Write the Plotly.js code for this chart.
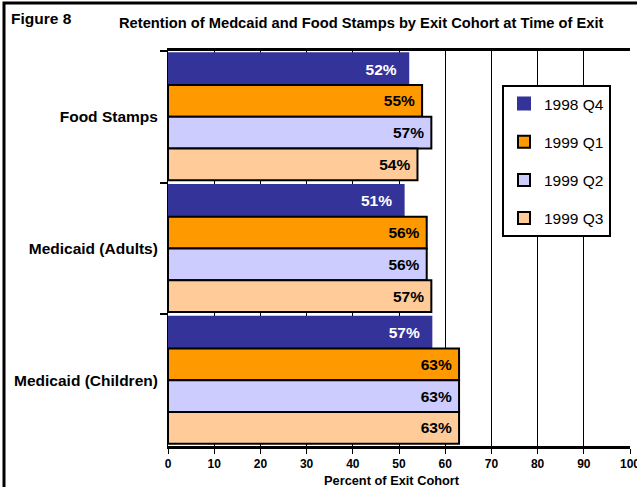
<!DOCTYPE html>
<html>
<head>
<meta charset="utf-8">
<script src="https://cdn.plot.ly/plotly-3.0.1.min.js"></script>
<style>html,body{margin:0;padding:0;background:#fff;}#chart{width:637px;height:487px;}</style>
</head>
<body>
<div id="chart"></div>
<script>
var categories = ["Food Stamps", "Medicaid (Adults)", "Medicaid (Children)"];
var seriesNames = ["1998 Q4", "1999 Q1", "1999 Q2", "1999 Q3"];
var q4_1998 = [52, 51, 57];
var q1_1999 = [55, 56, 63];
var q2_1999 = [57, 56, 63];
var q3_1999 = [54, 57, 63];
var seriesValues = [q4_1998, q1_1999, q2_1999, q3_1999];
var colors = ["#333399", "#FF9900", "#CCCCFF", "#FFCC99"];
var lineColors = ["#333399", "#000000", "#000000", "#000000"];
var textColors = ["#FFFFFF", "#000000", "#000000", "#000000"];
var xTicks = [0, 10, 20, 30, 40, 50, 60, 70, 80, 90, 100];

var FONT = "Liberation Sans, Arial, sans-serif";
var traces = seriesValues.map(function (vals, i) {
  return {
    type: "bar",
    orientation: "h",
    name: seriesNames[i],
    legendgroup: "g" + i,
    y: categories,
    x: vals,
    text: vals.map(function (v) { return v + "%" + (i === 0 ? "\u00a0\u00a0" : "\u00a0"); }),
    textposition: "inside",
    insidetextanchor: "end",
    textangle: 0,
    constraintext: "none",
    textfont: { family: FONT, size: 15.5, color: textColors[i], weight: "bold" },
    marker: { color: colors[i], line: { color: lineColors[i], width: 2 } },
    hoverinfo: "none"
  };
});

var L = 168, R = 7, T = 51, B = 41, W = 637, H = 487;
var pw = W - L - R, ph = H - T - B;
function px(x) { return (x - L) / pw; }
function py(y) { return (H - B - y) / ph; }

var layout = {
  width: W, height: H,
  margin: { l: L, r: R, t: T, b: B, pad: 0 },
  paper_bgcolor: "#ffffff",
  plot_bgcolor: "#ffffff",
  barmode: "group",
  bargap: 0.035,
  bargroupgap: 0,
  showlegend: true,
  legend: {
    x: px(502), y: py(85), xanchor: "left", yanchor: "top",
    bgcolor: "#ffffff", bordercolor: "#000000", borderwidth: 2,
    font: { family: FONT, size: 15.5, color: "#000000" },
    traceorder: "grouped", tracegroupgap: 15,
    itemwidth: 30,
    itemclick: false
  },
  xaxis: {
    range: [0, 100],
    tickvals: xTicks,
    ticktext: xTicks.map(String),
    showgrid: true, gridcolor: "#000000", gridwidth: 1,
    zeroline: false,
    showline: true, linecolor: "#000000", linewidth: 3, mirror: true,
    ticks: "outside", ticklen: 5, tickwidth: 1, tickcolor: "#000000",
    tickfont: { family: FONT, size: 12, color: "#000000", weight: "bold" },
    ticklabelstandoff: 0,
    ticklabeloverflow: "allow",
    fixedrange: true
  },
  yaxis: {
    type: "category",
    autorange: "reversed",
    tickson: "boundaries",
    ticks: "outside", ticklen: 7, tickwidth: 2, tickcolor: "#000000",
    showline: true, linecolor: "#000000", linewidth: 1,
    showgrid: false, zeroline: false,
    tickfont: { family: FONT, size: 15.5, color: "#000000", weight: "bold" },
    ticklabelstandoff: 6,
    fixedrange: true
  },
  annotations: [
    { xref: "paper", yref: "paper", x: px(9), y: py(18), xanchor: "left", yanchor: "middle",
      text: "Figure 8", showarrow: false,
      font: { family: FONT, size: 15.5, color: "#000000", weight: "bold" } },
    { xref: "paper", yref: "paper", x: px(117), y: py(23), xanchor: "left", yanchor: "middle",
      text: "Retention of Medcaid and Food Stamps by Exit Cohort at Time of Exit", showarrow: false,
      font: { family: FONT, size: 14.7, color: "#000000", weight: "bold" } },
    { xref: "paper", yref: "paper", x: px(392), y: py(480), xanchor: "center", yanchor: "middle",
      text: "Percent of Exit Cohort", showarrow: false,
      font: { family: FONT, size: 12.8, color: "#000000", weight: "bold" } }
  ],
  shapes: [
    { type: "rect", xref: "paper", yref: "paper",
      x0: px(4), x1: px(660), y0: py(520), y1: py(3),
      line: { color: "#000000", width: 3 }, fillcolor: "rgba(0,0,0,0)", layer: "above" }
  ]
};

Plotly.newPlot("chart", traces, layout, { displayModeBar: false, staticPlot: true });
</script>
</body>
</html>
